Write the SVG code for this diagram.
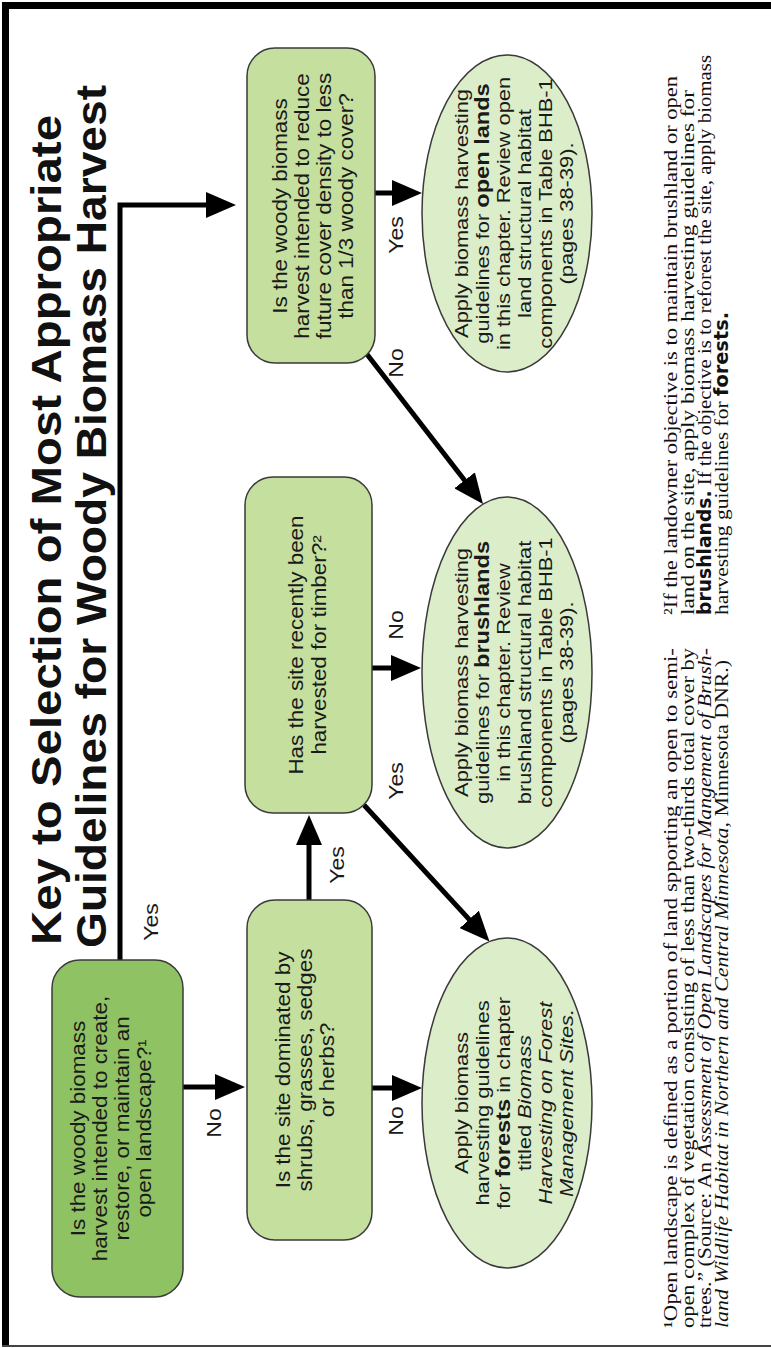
<svg xmlns="http://www.w3.org/2000/svg" width="771" height="1348" viewBox="0 0 771 1348">
<defs>
<marker id="ah" markerUnits="userSpaceOnUse" markerWidth="30" markerHeight="26" refX="22" refY="13" orient="auto">
<path d="M0,0 L30,13 L0,26 z" fill="#000"/>
</marker>
<style>
.t{font-family:"Liberation Sans",Arial,sans-serif;fill:#1a1a1a}
.title{font-size:43px;font-weight:bold;fill:#111}
.q{font-size:19.5px;text-anchor:middle}
.o{font-size:19px;text-anchor:middle}
.lbl{font-size:20px;text-anchor:middle}
.b{font-weight:bold;font-size:20.5px}
.i{font-style:italic}
.fn{font-family:"Liberation Serif","Times New Roman",serif;font-size:19px;fill:#111}
.nb{font-family:"Liberation Sans Narrow","DejaVu Sans Condensed",sans-serif;font-weight:bold}
.dark{fill:#8fc262;stroke:#3a3a3a;stroke-width:1.5}
.lite{fill:#c5df9e;stroke:#3a3a3a;stroke-width:1.5}
.ov{fill:#dcedc9;stroke:#3a3a3a;stroke-width:1.5}
.c{fill:none;stroke:#000;stroke-width:5;marker-end:url(#ah)}
</style>
</defs>
<rect width="771" height="1348" fill="#fff"/>
<g id="frame">
<rect x="2" y="2" width="769" height="7" fill="#000"/>
<rect x="2" y="2" width="7" height="1344" fill="#000"/>
<rect x="2" y="1345" width="769" height="2" fill="#444"/>
</g>
<g transform="matrix(0,-1,1,0,0,1348)">
<g id="title">
<text class="t title" x="403" y="61" textLength="830" lengthAdjust="spacingAndGlyphs">Key to Selection of Most Appropriate</text>
<text class="t title" x="400" y="106" textLength="863" lengthAdjust="spacingAndGlyphs">Guidelines for Woody Biomass Harvest</text>
</g>
<g id="connectors">
<path class="c" d="M388,120 L1143,120 L1143,228"/>
<path class="c" d="M261,183 L261,237"/>
<path class="c" d="M260,372 L260,414"/>
<path class="c" d="M448,309 L525,309"/>
<path class="c" d="M543,364 L412.4,484.1"/>
<path class="c" d="M680,372 L680,413"/>
<path class="c" d="M995,366 L850.3,478.1"/>
<path class="c" d="M1155,375 L1155,414"/>
</g>
<g id="labels">
<text class="t lbl" transform="translate(426,158) scale(1.15,1)">Yes</text>
<text class="t lbl" transform="translate(225,221) scale(1.15,1)">No</text>
<text class="t lbl" transform="translate(227,403) scale(1.15,1)">No</text>
<text class="t lbl" transform="translate(483,344) scale(1.15,1)">Yes</text>
<text class="t lbl" transform="translate(567,403) scale(1.15,1)">Yes</text>
<text class="t lbl" transform="translate(723,403) scale(1.15,1)">No</text>
<text class="t lbl" transform="translate(985,403) scale(1.15,1)">No</text>
<text class="t lbl" transform="translate(1113,403) scale(1.15,1)">Yes</text>
</g>
<g id="n1">
<rect class="dark" x="51" y="52" width="337" height="131" rx="28"/>
<text class="t q" transform="translate(219.5,85) scale(1.15,1)">Is the woody biomass</text>
<text class="t q" transform="translate(219.5,107) scale(1.15,1)">harvest intended to create,</text>
<text class="t q" transform="translate(219.5,129) scale(1.15,1)">restore, or maintain an</text>
<text class="t q" transform="translate(219.5,151) scale(1.15,1)">open landscape?¹</text>
</g>
<g id="n2">
<rect class="lite" x="108" y="247" width="340" height="125" rx="28"/>
<text class="t q" transform="translate(278,290) scale(1.15,1)">Is the site dominated by</text>
<text class="t q" transform="translate(278,312) scale(1.15,1)">shrubs, grasses, sedges</text>
<text class="t q" transform="translate(278,334) scale(1.15,1)">or herbs?</text>
</g>
<g id="n3">
<rect class="lite" x="535" y="245" width="336" height="127" rx="28"/>
<text class="t q" transform="translate(703,303) scale(1.15,1)">Has the site recently been</text>
<text class="t q" transform="translate(703,326) scale(1.15,1)">harvested for timber?²</text>
</g>
<g id="n4">
<rect class="lite" x="985" y="247" width="315" height="128" rx="28"/>
<text class="t q" transform="translate(1142,287) scale(1.15,1)">Is the woody biomass</text>
<text class="t q" transform="translate(1142,309) scale(1.15,1)">harvest intended to reduce</text>
<text class="t q" transform="translate(1142,331) scale(1.15,1)">future cover density to less</text>
<text class="t q" transform="translate(1142,353) scale(1.15,1)">than 1/3 woody cover?</text>
</g>
<g id="forests">
<ellipse class="ov" cx="245" cy="507" rx="165" ry="85"/>
<text class="t o" transform="translate(245,468) scale(1.15,1)">Apply biomass</text>
<text class="t o" transform="translate(245,489) scale(1.15,1)">harvesting guidelines</text>
<text class="t o" transform="translate(245,510) scale(1.15,1)">for <tspan class="b">forests</tspan> in chapter</text>
<text class="t o" transform="translate(245,531) scale(1.15,1)">titled <tspan class="i">Biomass</tspan></text>
<text class="t o i" transform="translate(245,552) scale(1.15,1)">Harvesting on Forest</text>
<text class="t o i" transform="translate(245,573) scale(1.15,1)">Management Sites.</text>
</g>
<g id="brushlands">
<ellipse class="ov" cx="675.5" cy="507" rx="175.5" ry="85"/>
<text class="t o" transform="translate(675.5,468) scale(1.15,1)">Apply biomass harvesting</text>
<text class="t o" transform="translate(675.5,489) scale(1.15,1)">guidelines for <tspan class="b">brushlands</tspan></text>
<text class="t o" transform="translate(675.5,510) scale(1.15,1)">in this chapter. Review</text>
<text class="t o" transform="translate(675.5,531) scale(1.15,1)">brushland structural habitat</text>
<text class="t o" transform="translate(675.5,552) scale(1.15,1)">components in Table BHB-1</text>
<text class="t o" transform="translate(675.5,573) scale(1.15,1)">(pages 38-39).</text>
</g>
<g id="openlands">
<ellipse class="ov" cx="1134.5" cy="507" rx="158.5" ry="85"/>
<text class="t o" transform="translate(1134.5,468) scale(1.15,1)">Apply biomass harvesting</text>
<text class="t o" transform="translate(1134.5,489) scale(1.15,1)">guidelines for <tspan class="b">open lands</tspan></text>
<text class="t o" transform="translate(1134.5,510) scale(1.15,1)">in this chapter. Review open</text>
<text class="t o" transform="translate(1134.5,531) scale(1.15,1)">land structural habitat</text>
<text class="t o" transform="translate(1134.5,552) scale(1.15,1)">components in Table BHB-1</text>
<text class="t o" transform="translate(1134.5,573) scale(1.15,1)">(pages 38-39).</text>
</g>
<g id="footnote1">
<text class="fn" x="20" y="677" textLength="680" lengthAdjust="spacingAndGlyphs">¹Open landscape is defined as a portion of land spporting an open to semi-</text>
<text class="fn" x="20" y="694" textLength="680" lengthAdjust="spacingAndGlyphs">open complex of vegetation consisting of less than two-thirds total cover by</text>
<text class="fn" x="20" y="711" textLength="680" lengthAdjust="spacingAndGlyphs">trees.” (Source: An <tspan class="i">Assessment of Open Landscapes for Mangement of Brush-</tspan></text>
<text class="fn" x="20" y="728" textLength="668" lengthAdjust="spacingAndGlyphs"><tspan class="i">land Wildlife Habitat in Northern and Central Minnesota,</tspan> Minnesota DNR.)</text>
</g>
<g id="footnote2">
<text class="fn" x="733" y="677" textLength="539" lengthAdjust="spacingAndGlyphs">²If the landowner objective is to maintain brushland or open</text>
<text class="fn" x="733" y="694" textLength="525" lengthAdjust="spacingAndGlyphs">land on the site, apply biomass harvesting guidelines for</text>
<text class="fn" x="733" y="711" textLength="560" lengthAdjust="spacingAndGlyphs"><tspan class="nb">brushlands.</tspan> If the objective is to reforest the site, apply biomass</text>
<text class="fn" x="733" y="728" textLength="303" lengthAdjust="spacingAndGlyphs">harvesting guidelines for <tspan class="nb">forests.</tspan></text>
</g>
</g>
</svg>
